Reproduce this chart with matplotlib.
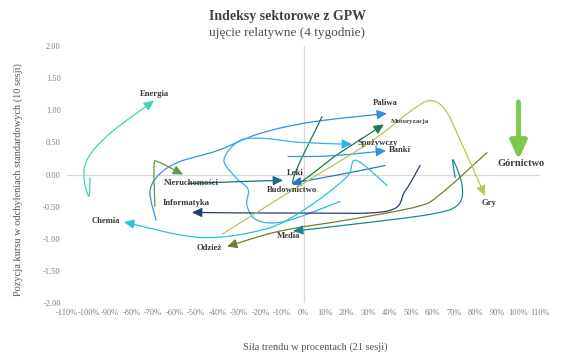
import matplotlib
matplotlib.use("Agg")
import matplotlib.pyplot as plt
from matplotlib.patches import FancyArrowPatch
from matplotlib.path import Path
import numpy as np

# dane: siła trendu (%) i pozycja kursu (odchylenia standardowe), punkty tygodniowe
energia_x = [-99.3, -99.8, -102.1, -100.2, -90.0, -69.5]
energia_y = [-0.05, -0.34, -0.05, 0.26, 0.64, 1.15]

paliwa_x = [-68.6, -71.4, -67.7, -58.4, -40.2, -20.2, 4.4, 38.8]
paliwa_y = [-0.71, -0.28, -0.02, 0.19, 0.37, 0.64, 0.82, 0.95]

motoryzacja_x = [8.6, -4.9, 17.0, 37.4]
motoryzacja_y = [0.90, -0.14, 0.34, 0.78]

spozywczy_x = [17.0, -8.6, -21.6, -26.3, -25.8, -31.4, -37.0, -29.5, -17.9, -1.6, 22.6]
spozywczy_y = [-0.42, -0.73, -0.71, -0.48, -0.23, -0.05, 0.23, 0.53, 0.56, 0.50, 0.47]

banki_x = [-7.2, 12.3, 38.4]
banki_y = [0.28, 0.29, 0.37]

gornictwo_x = [100.0, 100.0]
gornictwo_y = [1.13, 0.23]

leki_x = [-53.7, -29.5, -9.5]
leki_y = [-0.14, -0.11, -0.09]

budownictwo_x = [37.9, 17.0, -5.8]
budownictwo_y = [0.14, 0.00, -0.14]

nieruchomosci_x = [-69.1, -69.5, -67.2, -56.0]
nieruchomosci_y = [-0.50, 0.14, 0.19, 0.00]

informatyka_x = [54.2, 47.2, 38.8, -1.6, -51.9]
informatyka_y = [0.14, -0.26, -0.57, -0.60, -0.59]

chemia_x = [38.8, 24.4, 19.8, 0.7, -17.9, -48.1, -83.5]
chemia_y = [-0.17, 0.22, -0.05, -0.54, -0.85, -0.98, -0.74]

odziez_x = [85.3, 63.5, 52.8, 21.6, -10.9, -35.6]
odziez_y = [0.34, -0.31, -0.50, -0.70, -0.88, -1.12]

media_x = [70.5, 69.5, 73.7, 71.9, 58.8, 21.6, -4.9]
media_y = [-0.05, 0.23, -0.16, -0.47, -0.62, -0.78, -0.88]

gry_x = [-37.9, -1.6, 30.9, 49.5, 58.8, 65.8, 72.8, 84.4]
gry_y = [-0.93, -0.17, 0.50, 0.98, 1.15, 1.01, 0.54, -0.33]

x_ticks = list(range(-110, 111, 10))
y_ticks = [-2.0, -1.5, -1.0, -0.5, 0.0, 0.5, 1.0, 1.5, 2.0]

# nazwa, dane, kolor, wyrównanie etykiety, przesunięcie etykiety (px)
series = [
    ("Energia", energia_x, energia_y, "#3dd4b2", "center", (0, 7)),
    ("Paliwa", paliwa_x, paliwa_y, "#3590de", "center", (-2, 10)),
    ("Motoryzacja", motoryzacja_x, motoryzacja_y, "#1e7a50", "left", (7, 3)),
    ("Spożywczy", spozywczy_x, spozywczy_y, "#2cb4e6", "left", (5, 1)),
    ("Banki", banki_x, banki_y, "#2b96da", "left", (3, 1)),
    ("Leki", leki_x, leki_y, "#1f6a82", "center", (12, 7)),
    ("Budownictwo", budownictwo_x, budownictwo_y, "#2f74bb", "center", (1, -6)),
    ("Nieruchomości", nieruchomosci_x, nieruchomosci_y, "#5f9a45", "center", (8, -8)),
    ("Informatyka", informatyka_x, informatyka_y, "#213f76", "center", (-6, 9)),
    ("Chemia", chemia_x, chemia_y, "#25c6d6", "right", (-4, 1)),
    ("Odzież", odziez_x, odziez_y, "#717f30", "right", (-5, -2)),
    ("Media", media_x, media_y, "#1f8788", "center", (-4, -5)),
    ("Gry", gry_x, gry_y, "#b4c74e", "center", (4, -7)),
]


def smooth_path(xs, ys):
    # wygładzona linia jak w Excelu: Catmull-Rom zapisany jako krzywe Beziera
    p = np.column_stack([xs, ys]).astype(float)
    pad = np.vstack([p[0], p, p[-1]])
    verts = [p[0]]
    codes = [Path.MOVETO]
    for i in range(1, len(pad) - 2):
        p0, p1, p2, p3 = pad[i - 1], pad[i], pad[i + 1], pad[i + 2]
        verts += [p1 + (p2 - p0) / 6, p2 - (p3 - p1) / 6, p2]
        codes += [Path.CURVE4] * 3
    return Path(verts, codes)


plt.rcParams['font.family'] = ['Liberation Serif', 'DejaVu Serif']

fig = plt.figure(figsize=(5.64, 3.6), dpi=100)
ax = fig.add_axes([0.1188, 0.1583, 0.8387, 0.7139])
ax.set_xlim(-110, 110)
ax.set_ylim(-2, 2)

for s in ax.spines.values():
    s.set_visible(False)
ax.axhline(0, color="#d9d9d9", lw=0.9, zorder=0)
ax.axvline(0, color="#d9d9d9", lw=0.9, zorder=0)

ax.set_xticks(x_ticks)
ax.set_xticklabels([f"{t}%" for t in x_ticks])
ax.set_yticks(y_ticks)
ax.set_yticklabels([f"{t:.2f}" for t in y_ticks])
ax.tick_params(length=0, labelsize=6, colors="#7f7f7f", pad=4.5)

for name, xs, ys, col, ha, off in series:
    arr = FancyArrowPatch(path=smooth_path(xs, ys),
                          arrowstyle="-|>,head_length=0.6,head_width=0.28",
                          mutation_scale=10, lw=0.9, color=col, zorder=3)
    ax.add_patch(arr)
    fs = 5 if name == "Motoryzacja" else 6.2
    ax.annotate(name, (xs[-1], ys[-1]), xytext=off, textcoords="offset pixels",
                ha=ha, va="center", fontsize=fs, fontweight="bold", color="#3a3a3a",
                zorder=5)

# Górnictwo - gruba strzałka
arr = FancyArrowPatch(path=smooth_path(gornictwo_x, gornictwo_y),
                      arrowstyle="-|>,head_length=1.1,head_width=0.5",
                      mutation_scale=10, lw=3.5, color="#7cc94c", zorder=3)
ax.add_patch(arr)
ax.annotate("Górnictwo", (gornictwo_x[-1], gornictwo_y[-1]), xytext=(3, -4),
            textcoords="offset pixels", ha="center", va="center",
            fontsize=7.5, fontweight="bold", color="#3a3a3a")

fig.text(0.509, 0.953, "Indeksy sektorowe z GPW", ha="center", va="center",
         fontsize=10, fontweight="bold", color="#404040")
fig.text(0.509, 0.908, "ujęcie relatywne (4 tygodnie)", ha="center", va="center",
         fontsize=9.5, color="#505050")
fig.text(0.559, 0.036, "Siła trendu w procentach (21 sesji)", ha="center", va="center",
         fontsize=7.5, color="#555555")
fig.text(0.032, 0.5, "Pozycja kursu w odchyleniach standardowych (10 sesji)",
         ha="center", va="center", rotation=90, fontsize=7.5, color="#555555")

fig.savefig("out.png", dpi=100)
